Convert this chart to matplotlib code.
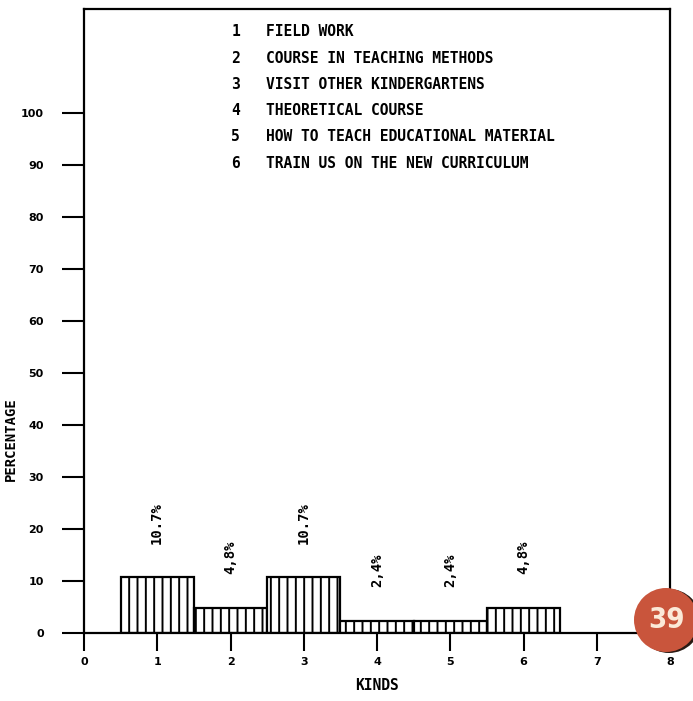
import matplotlib
matplotlib.use("Agg")
import matplotlib.pyplot as plt
from matplotlib.patches import Ellipse

kinds = [1, 2, 3, 4, 5, 6]
percentages = [10.7, 4.8, 10.7, 2.4, 2.4, 4.8]
bar_labels = ["10.7%", "4,8%", "10.7%", "2,4%", "2,4%", "4,8%"]
legend_items = [
    "FIELD WORK",
    "COURSE IN TEACHING METHODS",
    "VISIT OTHER KINDERGARTENS",
    "THEORETICAL COURSE",
    "HOW TO TEACH EDUCATIONAL MATERIAL",
    "TRAIN US ON THE NEW CURRICULUM",
]
x_ticks = list(range(0, 9))
y_ticks = list(range(0, 101, 10))

plt.rcParams['hatch.linewidth'] = 1.4
W, H = 693, 701
fig = plt.figure(figsize=(W / 100, H / 100), dpi=100)
fig.patch.set_facecolor("white")
ax = fig.add_axes([84 / W, 1 - 633 / H, (670 - 84) / W, (633 - 9) / H])

ax.bar(kinds, percentages, width=1.0, facecolor="white", edgecolor="black",
       linewidth=1.6, hatch="||", zorder=2)

mono = "DejaVu Sans Mono"
for k, v, lab in zip(kinds, percentages, bar_labels):
    ax.text(k, v + 6.5, lab, rotation=90, ha="center", va="bottom",
            family=mono, fontsize=10, fontweight="bold")

for i, item in enumerate(legend_items):
    y = 115.6 - 5.05 * i
    ax.text(2.07, y, str(i + 1), ha="center", va="center",
            family=mono, fontsize=10.5, fontweight="bold")
    ax.text(2.48, y, item, ha="left", va="center",
            family=mono, fontsize=10.5, fontweight="bold")

ax.set_xlim(0, 8)
ax.set_ylim(0, 120)
ax.set_xticks(x_ticks)
ax.set_yticks(y_ticks)
ax.set_xticklabels([str(t) for t in x_ticks], fontsize=8, fontweight="bold")
ax.set_yticklabels([str(t) for t in y_ticks], fontsize=8, fontweight="bold")
ax.tick_params(axis="y", direction="out", length=16, width=1.5, pad=13)
ax.tick_params(axis="x", direction="out", length=13, width=1.5, pad=4)
for s in ax.spines.values():
    s.set_linewidth(1.6)

ax.set_xlabel("KINDS", family=mono, fontsize=10.5, fontweight="bold", labelpad=8)
ax.set_ylabel("PERCENTAGE", family=mono, fontsize=10, fontweight="bold")
ax.yaxis.set_label_coords(-0.113, 0.31)

# page badge
cx, cy, r = 666, 620, 32
fig.add_artist(Ellipse(((cx + 3) / W, 1 - (cy + 1) / H), 2 * r / W, 2 * r / H,
                       transform=fig.transFigure, facecolor="#2a1a14",
                       edgecolor="none", zorder=10))
fig.add_artist(Ellipse((cx / W, 1 - cy / H), 2 * r / W, 2 * r / H,
                       transform=fig.transFigure, facecolor="#c9553c",
                       edgecolor="none", zorder=11))
fig.text(cx / W, 1 - cy / H, "39", ha="center", va="center", color="#fbe9d8",
         fontsize=21, family="DejaVu Sans", fontweight="bold",
         fontstretch="condensed", zorder=12)

fig.savefig("out.png", dpi=100, facecolor="white")
